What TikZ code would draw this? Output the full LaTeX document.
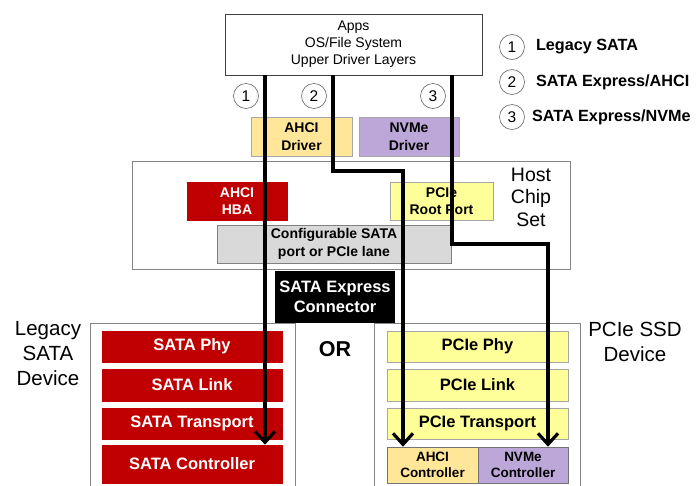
\documentclass[tikz,border=0pt]{standalone}
\usepackage{fontspec}
\setmainfont{Liberation Sans}
\usepackage{tikz}
\usetikzlibrary{arrows.meta}
\usetikzlibrary{positioning}
\definecolor{sataRed}{HTML}{C00000}
\definecolor{pcieYellow}{HTML}{FFFF99}
\definecolor{ahciGold}{HTML}{FFE699}
\definecolor{nvmePurple}{HTML}{BDA7D9}
\definecolor{cfgGray}{HTML}{D9D9D9}
\definecolor{edgeGray}{HTML}{A6A6A6}

\begin{document}
\begin{tikzpicture}
    [x=1pt, y=-1pt,
     every node/.style={inner sep=0pt, align=center},
     layer/.style={draw=edgeGray, line width=0.6pt, font=\fontsize{16.5}{19}\selectfont\bfseries},
     small/.style={draw=edgeGray, line width=0.6pt, font=\fontsize{14}{17.5}\selectfont\bfseries},
     frame/.style={draw=edgeGray!80!black, line width=0.6pt},
     num/.style={draw=black!60, circle, line width=0.6pt, minimum size=25pt, font=\fontsize{15.5}{15.5}\selectfont},
     keytext/.style={font=\fontsize{16.2}{16.2}\selectfont\bfseries},
     route/.style={line width=3.2pt, -{Straight Barb[length=11pt, width=20pt]}},
     label/.style={font=\fontsize{20.5}{25}\selectfont}]
    \useasboundingbox (0, 0) rectangle (699, 485);
    \clip (0, 0) rectangle (699, 485);

    \node (apps) [draw=black!75, line width=0.6pt, minimum width=257pt, minimum height=61pt,
      font=\fontsize{14}{17}\selectfont] at (353.5, 44.5) {
      Apps \\ OS/File System \\ Upper Driver Layers
    };

    \node (n1) [num] at (246, 96) {1};
    \node (n2) [num] at (314, 96) {2};
    \node (n3) [num] at (433, 96) {3};

    \node (ahcidrv) [small, fill=ahciGold, minimum width=101pt, minimum height=39pt] at (301.5, 136.5) {
      AHCI \\ Driver
    };
    \node (nvmedrv) [small, fill=nvmePurple, minimum width=100pt, minimum height=39pt] at (409, 136.5) {
      NVMe \\ Driver
    };

    \node (host) [frame, minimum width=438pt, minimum height=108pt] at (351, 215) {};
    \node (hostname) [font=\fontsize{19.5}{22.5}\selectfont] at (531, 197) {Host \\ Chip \\ Set};
    \node (hba) [small, draw=sataRed, fill=sataRed, text=white, minimum width=100pt, minimum height=38pt] at (237, 201) {
      AHCI \\ HBA
    };
    \node (rootport) [small, fill=pcieYellow, minimum width=103pt, minimum height=38pt] at (441.5, 201) {
      PCIe \\ Root Port
    };
    \node (cfg) [small, draw=black!50, fill=cfgGray, minimum width=234pt, minimum height=38pt] at (334, 244) {
      Configurable SATA \\ port or PCIe lane
    };
    \node (conn) [fill=black, text=white, minimum width=120pt, minimum height=52pt,
      font=\fontsize{16.5}{20}\selectfont\bfseries] at (335, 297) {
      SATA Express \\ Connector
    };

    \node (legacy) [frame, minimum width=205pt, minimum height=172pt] at (192.5, 409) {};
    \node (legacyname) [label] at (48, 354) {Legacy \\ SATA \\ Device};
    \node (sataphy) [layer, draw=sataRed, fill=sataRed, text=white, minimum width=180pt, minimum height=31pt] at (192, 346.5) {SATA Phy};
    \node (satalink) [layer, draw=sataRed, fill=sataRed, text=white, minimum width=180pt, minimum height=32pt] at (192, 385) {SATA Link};
    \node (satatrans) [layer, draw=sataRed, fill=sataRed, text=white, minimum width=180pt, minimum height=31pt] at (192, 423.5) {SATA Transport};
    \node (satactl) [layer, draw=sataRed, fill=sataRed, text=white, minimum width=180pt, minimum height=38pt] at (192, 464) {SATA Controller};

    \node (or) [font=\fontsize{21.5}{21.5}\selectfont\bfseries] at (335, 349) {OR};

    \node (pcie) [frame, minimum width=206pt, minimum height=172pt] at (477, 409) {};
    \node (pciename) [label] at (635, 342) {PCIe SSD \\ Device};
    \node (pciephy) [layer, fill=pcieYellow, minimum width=181pt, minimum height=31pt] at (477.5, 346.5) {PCIe Phy};
    \node (pcielink) [layer, fill=pcieYellow, minimum width=181pt, minimum height=32pt] at (477.5, 385) {PCIe Link};
    \node (pcietrans) [layer, fill=pcieYellow, minimum width=181pt, minimum height=31pt] at (477.5, 423.5) {PCIe Transport};
    \node (ahcictl) [small, draw=black!55, fill=ahciGold, minimum width=91pt, minimum height=36pt,
      font=\fontsize{13.5}{16}\selectfont\bfseries] at (432.5, 465) {AHCI \\ Controller};
    \node (nvmectl) [small, draw=black!55, fill=nvmePurple, minimum width=90pt, minimum height=36pt,
      font=\fontsize{13.5}{16}\selectfont\bfseries] at (523, 465) {NVMe \\ Controller};

    \node (k1) [num] at (512, 47) {1};
    \node (k2) [num] at (512, 82) {2};
    \node (k3) [num] at (512, 117) {3};
    \node (t1) [keytext, right=11pt of k1] {Legacy SATA};
    \node (t2) [keytext, right=11pt of k2] {SATA Express/AHCI};
    \node (t3) [keytext, right=7pt of k3] {SATA Express/NVMe};

    \coordinate (r1) at (265, 0);
    \coordinate (r2a) at (333, 171);
    \coordinate (r2b) at (403, 0);
    \coordinate (r3a) at (452, 244);
    \coordinate (r3b) at (548, 0);

    \draw [route] (apps.south -| r1) -- (satactl.north -| r1);
    \draw [route] (apps.south -| r2a) -- (r2a) -| (ahcictl.north -| r2b);
    \draw [route] (apps.south -| r3a) -- (r3a) -| (nvmectl.north -| r3b);
  \end{tikzpicture}
\end{document}
